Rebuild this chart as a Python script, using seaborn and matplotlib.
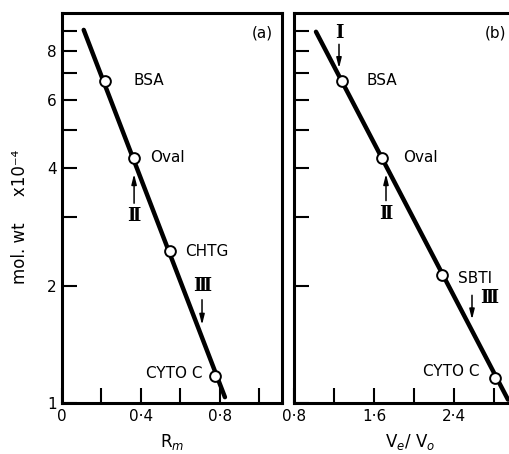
import matplotlib
matplotlib.use("Agg")
import matplotlib.pyplot as plt
import seaborn as sns
import pandas as pd

# data (mol. wt in units of 10^4)
proteins_a = ["BSA", "Oval", "CHTG", "CYTO C"]
rm = [0.218, 0.365, 0.547, 0.775]
mw_a = [6.7, 4.25, 2.45, 1.17]
line_a_x = [0.11, 0.825]
line_a_y = [9.05, 1.035]

proteins_b = ["BSA", "Oval", "SBTI", "CYTO C"]
ve_vo = [1.28, 1.68, 2.28, 2.81]
mw_b = [6.7, 4.25, 2.13, 1.16]
line_b_x = [1.02, 2.94]
line_b_y = [8.95, 1.02]

# peak arrows: label, arrow x, tail, tip, label x, label y
arrows_a = [("Ⅱ", 0.365, 3.2, 3.93, 0.365, 3.02), ("Ⅲ", 0.709, 1.87, 1.56, 0.709, 2.0)]
arrows_b = [("I", 1.25, 8.45, 7.1, 1.25, 8.9), ("Ⅱ", 1.72, 3.25, 3.93, 1.72, 3.05),
            ("Ⅲ", 2.58, 1.92, 1.61, 2.75, 1.86)]

yticks = [1, 2, 3, 4, 5, 6, 7, 8, 9]
ytick_labels = ["1", "2", "", "4", "", "6", "", "8", ""]
xticks_a = [0, 0.2, 0.4, 0.6, 0.8, 1.0]
xtick_labels_a = ["0", "", "0·4", "", "0·8", ""]
xticks_b = [0.8, 1.2, 1.6, 2.0, 2.4, 2.8]
xtick_labels_b = ["0·8", "", "1·6", "", "2·4", ""]

sns.set_style("ticks")
plt.rcParams["font.family"] = ["DejaVu Sans"]
plt.rcParams["text.color"] = "black"
plt.rcParams["xtick.color"] = "black"
plt.rcParams["ytick.color"] = "black"
plt.rcParams["axes.edgecolor"] = "black"

fig = plt.figure(figsize=(5.1, 4.54), dpi=100)
W, H = 510, 454
ax_a = fig.add_axes([62 / W, 1 - 403 / H, 220 / W, 390 / H])
ax_b = fig.add_axes([294 / W, 1 - 403 / H, 215 / W, 390 / H])

# label offsets in pixels (dx, dy, ha)
offs_a = [(28, 0, "left"), (16, 0, "left"), (15, 0, "left"), (-13, 3, "right")]
offs_b = [(25, 0, "left"), (21, 0, "left"), (16, -4, "left"), (-15, 6, "right")]


def draw(ax, x, y, names, offs, lx, ly, arrows):
    df = pd.DataFrame({"x": x, "y": y, "name": names})
    sns.lineplot(x=lx, y=ly, ax=ax, color="black", linewidth=3.2)
    sns.scatterplot(data=df, x="x", y="y", ax=ax, s=60, facecolor="white",
                    edgecolor="black", linewidth=1.4, zorder=5)
    for (xi, yi, nm), (dx, dy, ha) in zip(zip(x, y, names), offs):
        ax.annotate(nm, (xi, yi), xytext=(dx, dy), textcoords="offset pixels",
                    ha=ha, va="center", fontsize=11, color="black")
    for lab, ax_x, tail, tip, lab_x, lab_y in arrows:
        ax.annotate("", xy=(ax_x, tip), xytext=(ax_x, tail),
                    arrowprops=dict(arrowstyle="-|>,head_length=0.6,head_width=0.15",
                                    color="black", lw=1.1))
        ax.text(lab_x, lab_y, lab, ha="center", va="center", fontsize=13,
                family="DejaVu Serif", fontweight="bold", color="black")
    ax.set_yscale("log")
    ax.set_ylim(1, 10)
    ax.set_yticks(yticks)
    ax.yaxis.set_minor_locator(matplotlib.ticker.NullLocator())
    ax.tick_params(direction="in", length=11, width=1.5, labelsize=11, pad=4,
                   colors="black")
    for s in ax.spines.values():
        s.set_linewidth(2.2)
        s.set_color("black")
    ax.set_ylabel("")
    ax.set_xlabel("")


draw(ax_a, rm, mw_a, proteins_a, offs_a, line_a_x, line_a_y, arrows_a)
draw(ax_b, ve_vo, mw_b, proteins_b, offs_b, line_b_x, line_b_y, arrows_b)

ax_a.set_xlim(0, 1.114)
ax_a.set_xticks(xticks_a)
ax_a.set_xticklabels(xtick_labels_a)
ax_a.set_yticklabels(ytick_labels)
ax_a.set_xlabel("R$_m$", fontsize=12, labelpad=6, color="black")

ax_b.set_xlim(0.8, 2.95)
ax_b.set_xticks(xticks_b)
ax_b.set_xticklabels(xtick_labels_b)
ax_b.set_yticklabels([])
ax_b.spines["right"].set_visible(False)
ax_b.set_xlabel("V$_e$/ V$_o$", fontsize=12, labelpad=6, color="black")
ax_b.xaxis.set_label_coords(0.54, -0.075)

ax_a.text(0.91, 0.95, "(a)", transform=ax_a.transAxes, ha="center", va="center", fontsize=11)
ax_b.text(0.935, 0.95, "(b)", transform=ax_b.transAxes, ha="center", va="center", fontsize=11)

fig.text(20 / W, 1 - 217 / H, "mol. wt     x10⁻⁴", rotation=90, ha="center", va="center", fontsize=12)

fig.savefig("out.png", dpi=100)
